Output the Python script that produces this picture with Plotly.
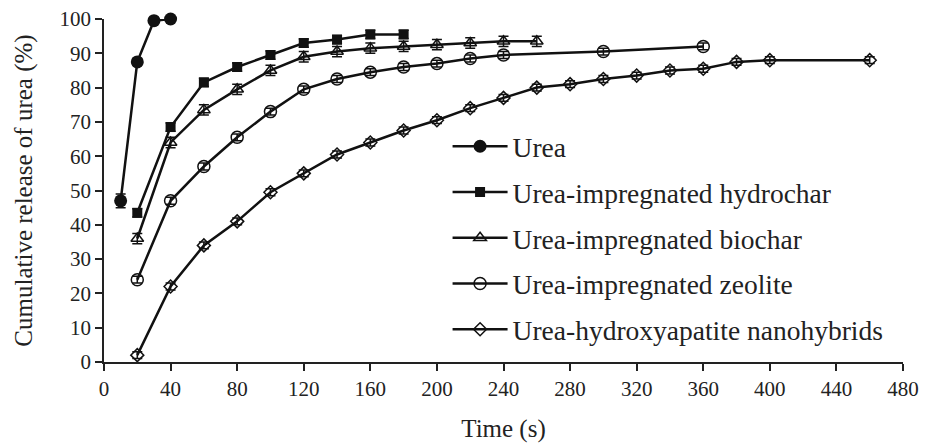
import plotly.graph_objects as go

time_urea = [10, 20, 30, 40]
rel_urea = [47, 87.5, 99.5, 100]
err_urea = [2, 1, 0.5, 0.3]

time_hydro = [20, 40, 60, 80, 100, 120, 140, 160, 180]
rel_hydro = [43.5, 68.5, 81.5, 86, 89.5, 93, 94, 95.5, 95.5]

time_bio = [20, 40, 60, 80, 100, 120, 140, 160, 180, 200, 220, 240, 260]
rel_bio = [36, 64, 73.5, 79.5, 85, 89, 90.5, 91.5, 92, 92.5, 93, 93.5, 93.5]

time_zeo = [20, 40, 60, 80, 100, 120, 140, 160, 180, 200, 220, 240, 300, 360]
rel_zeo = [24, 47, 57, 65.5, 73, 79.5, 82.5, 84.5, 86, 87, 88.5, 89.5, 90.5, 92]

time_nano = [20, 40, 60, 80, 100, 120, 140, 160, 180, 200, 220, 240, 260, 280,
             300, 320, 340, 360, 380, 400, 460]
rel_nano = [2, 22, 34, 41, 49.5, 55, 60.5, 64, 67.5, 70.5, 74, 77, 80, 81,
            82.5, 83.5, 85, 85.5, 87.5, 88, 88]

x_ticks = list(range(0, 481, 40))
y_ticks = list(range(0, 101, 10))

series = [
    ("Urea", time_urea, rel_urea, dict(symbol="circle", size=13, color="#111"), err_urea),
    ("Urea-impregnated hydrochar", time_hydro, rel_hydro, dict(symbol="square", size=10, color="#111"), [1.2]*len(rel_hydro)),
    ("Urea-impregnated biochar", time_bio, rel_bio, dict(symbol="triangle-up-open", size=11, color="#111", line=dict(width=1.5)), [1.5]*len(rel_bio)),
    ("Urea-impregnated zeolite", time_zeo, rel_zeo, dict(symbol="circle-open", size=12, color="#111", line=dict(width=1.5)), [1.0]*len(rel_zeo)),
    ("Urea-hydroxyapatite nanohybrids", time_nano, rel_nano, dict(symbol="diamond-open", size=10, color="#111", line=dict(width=1.5)), [1.0]*len(rel_nano)),
]

fig = go.Figure()
for i, (name, x, y, mk, err) in enumerate(series):
    fig.add_trace(go.Scatter(
        x=x, y=y, name=name, mode="lines+markers",
        line=dict(color="#111", width=2.5),
        marker=mk, cliponaxis=False,
        error_y=dict(type="data", array=err, color="#111", thickness=1.5, width=5),
        legendgroup=f"g{i}",
    ))

font_family = "Liberation Serif, Times New Roman, serif"
fig.update_layout(
    width=928, height=445,
    margin=dict(l=104, r=25, t=19, b=83),
    paper_bgcolor="white", plot_bgcolor="white",
    font=dict(family=font_family, size=21, color="#222"),
    showlegend=True,
    legend=dict(x=0.43, y=0.7, xanchor="left", yanchor="top",
                font=dict(size=27.5, family=font_family, color="#222"),
                tracegroupgap=7, itemwidth=55, bgcolor="rgba(0,0,0,0)"),
    xaxis=dict(range=[0, 480], tickvals=x_ticks, ticks="outside", ticklen=7,
               tickwidth=1.5, tickcolor="#222", showline=True, linecolor="#222",
               linewidth=1.5, showgrid=False, zeroline=False, automargin=False,
               title=dict(text="Time (s)", font=dict(size=25), standoff=20),
               tickfont=dict(size=21)),
    yaxis=dict(range=[0, 100], tickvals=y_ticks, ticks="outside", ticklen=7,
               tickwidth=1.5, tickcolor="#222", showline=True, linecolor="#222",
               linewidth=1.5, showgrid=False, zeroline=False, automargin=False,
               title=dict(text="Cumulative release of urea (%)", font=dict(size=25), standoff=20),
               tickfont=dict(size=21)),
)

fig.write_html("out.html")
